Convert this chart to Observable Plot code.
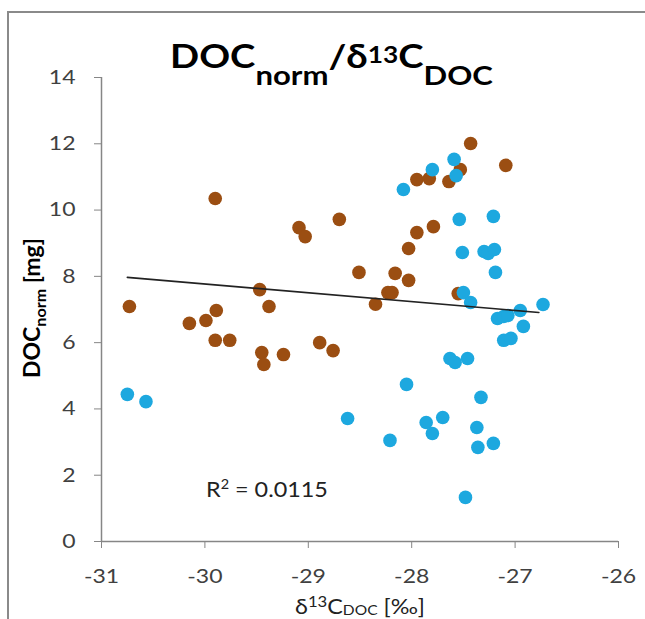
<!DOCTYPE html>
<html><head><meta charset="utf-8">
<script src="https://cdn.jsdelivr.net/npm/d3@7"></script>
<script src="https://cdn.jsdelivr.net/npm/@observablehq/plot@0.6"></script>
<style>
html,body{margin:0;padding:0;background:#fff;overflow:hidden;}
#wrap{position:relative;width:645px;height:619px;overflow:hidden;}
#chart,#overlay{position:absolute;left:0;top:0;}
</style></head>
<body>
<div id="wrap">
<div id="chart"></div>
<svg id="overlay" width="645" height="619"></svg>
</div>
<script>
const brownX = [-30.73,-30.15,-29.99,-29.89,-29.90,-29.76,-29.90,-29.09,-29.03,-28.70,-28.51,-29.47,-29.38,-29.45,-29.43,-29.24,-28.89,-28.76,-28.35,-28.16,-28.03,-28.23,-28.19,-27.55,-28.03,-27.95,-27.79,-27.95,-27.83,-27.64,-27.53,-27.43,-27.09];
const brownY = [7.09,6.58,6.67,6.97,6.07,6.07,10.35,9.47,9.20,9.72,8.12,7.60,7.09,5.70,5.34,5.64,6.00,5.76,7.16,8.09,7.88,7.51,7.51,7.48,8.84,9.32,9.50,10.92,10.95,10.86,11.22,12.01,11.35];
const blueX = [-30.75,-30.57,-28.62,-28.08,-27.80,-27.59,-27.57,-27.54,-27.21,-27.51,-27.30,-27.26,-27.20,-27.19,-27.50,-27.43,-26.73,-26.95,-27.17,-27.11,-27.07,-26.92,-27.11,-27.04,-27.63,-27.58,-27.46,-28.05,-27.33,-27.70,-27.86,-27.80,-28.21,-27.37,-27.36,-27.21,-27.48];
const blueY = [4.44,4.22,3.71,10.62,11.22,11.53,11.04,9.72,9.81,8.72,8.75,8.69,8.81,8.12,7.51,7.21,7.15,6.97,6.73,6.79,6.82,6.49,6.07,6.13,5.52,5.40,5.52,4.74,4.35,3.74,3.59,3.26,3.05,3.44,2.84,2.96,1.33];
const trendX = [-30.75,-26.77];
const trendY = [7.97,6.91];
const xTicks = [-31,-30,-29,-28,-27,-26];
const yTicks = [0,2,4,6,8,10,12,14];
const r2Text = "0.0115";

const brown = brownX.map((x,i)=>({x, y: brownY[i]}));
const blue = blueX.map((x,i)=>({x, y: blueY[i]}));
const trend = trendX.map((x,i)=>({x, y: trendY[i]}));

const FONT = "Lato, 'Open Sans', sans-serif";

const plot = Plot.plot({
  width: 645, height: 619,
  marginLeft: 101, marginRight: 27, marginTop: 77, marginBottom: 78,
  style: {fontFamily: FONT, fontSize: "20px", color: "#404040", background: "transparent"},
  x: {domain: [-31, -26]},
  y: {domain: [0, 14]},
  marks: [
    Plot.axisX({ticks: xTicks, tickFormat: d => String(d), tickSize: 7, tickPadding: 20, stroke: "#868686", label: null}),
    Plot.axisY({ticks: yTicks, tickFormat: d => String(d), tickSize: 7, tickPadding: 19, stroke: "#868686", label: null}),
    Plot.ruleY([0], {stroke: "#868686", strokeWidth: 1.5}),
    Plot.ruleX([-31], {stroke: "#868686", strokeWidth: 1.5}),
    Plot.dot(brown, {x: "x", y: "y", r: 6.8, fill: "#9B4E12", stroke: "none"}),
    Plot.dot(blue, {x: "x", y: "y", r: 6.8, fill: "#1DA8DF", stroke: "none"}),
    Plot.line(trend, {x: "x", y: "y", stroke: "#222", strokeWidth: 1.6})
  ]
});
document.getElementById("chart").appendChild(plot);

// widen tick label glyphs a little (reference font is wider)
d3.select(plot).selectAll('g[aria-label="x-axis tick label"] text, g[aria-label="y-axis tick label"] text').each(function(){
  const el = d3.select(this);
  const t = el.attr("transform");
  if (t) el.attr("transform", t + " scale(1.15,1)");
  else {
    const x = +el.attr("x") || 0, y = +el.attr("y") || 0;
    el.attr("x", null).attr("y", null).attr("transform", `translate(${x},${y}) scale(1.15,1)`);
  }
});

const ov = d3.select("#overlay").style("font-family", FONT);

// chart-area border (top and left visible in the reference)
ov.append("path").attr("d", "M8,700V12H700").attr("fill", "none").attr("stroke", "#8a8a8a").attr("stroke-width", 2);

function addText(parts, opts) {
  const t = ov.append("text")
    .attr("font-size", opts.size)
    .attr("font-weight", opts.weight || "normal")
    .attr("fill", opts.fill || "#000")
    .attr("text-anchor", opts.anchor || "middle");
  for (const p of parts) {
    const s = t.append("tspan").text(p.text);
    if (p.size) s.attr("font-size", p.size);
    if (p.dy) s.attr("dy", p.dy);
  }
  const w = t.node().getComputedTextLength();
  const k = opts.length / w;
  t.attr("transform", `translate(${opts.x},${opts.y}) ${opts.rotate ? "rotate(-90)" : ""} scale(${k},${opts.thick || 1})`);
  return t;
}

// Title
addText([
  {text: "DOC"},
  {text: "norm", size: 26, dy: 17},
  {text: "/", size: 32, dy: -17},
  {text: "δ"},
  {text: "13", size: 22, dy: -5},
  {text: "C", size: 32, dy: 5},
  {text: "DOC", size: 26, dy: 17}
], {x: 331.5, y: 68, size: 32, weight: "bold", length: 323});

// Y axis label
addText([
  {text: "DOC"},
  {text: "norm", size: 14, dy: 5},
  {text: " [mg]", size: 20, dy: -5}
], {x: 40, y: 308, size: 20, weight: "bold", length: 140, rotate: true, thick: 1.1});

// X axis label
addText([
  {text: "δ"},
  {text: "13", size: 15, dy: -7},
  {text: "C", size: 21, dy: 7},
  {text: "DOC", size: 14, dy: 1},
  {text: " [‰]", size: 21, dy: -1}
], {x: 360, y: 614, size: 21, fill: "#222", length: 130});

// R squared
addText([
  {text: "R"},
  {text: "2", size: 13, dy: -8},
  {text: " = " + r2Text, size: 21, dy: 8}
], {x: 206, y: 497, size: 21, fill: "#222", anchor: "start", length: 122});
</script>
</body></html>
